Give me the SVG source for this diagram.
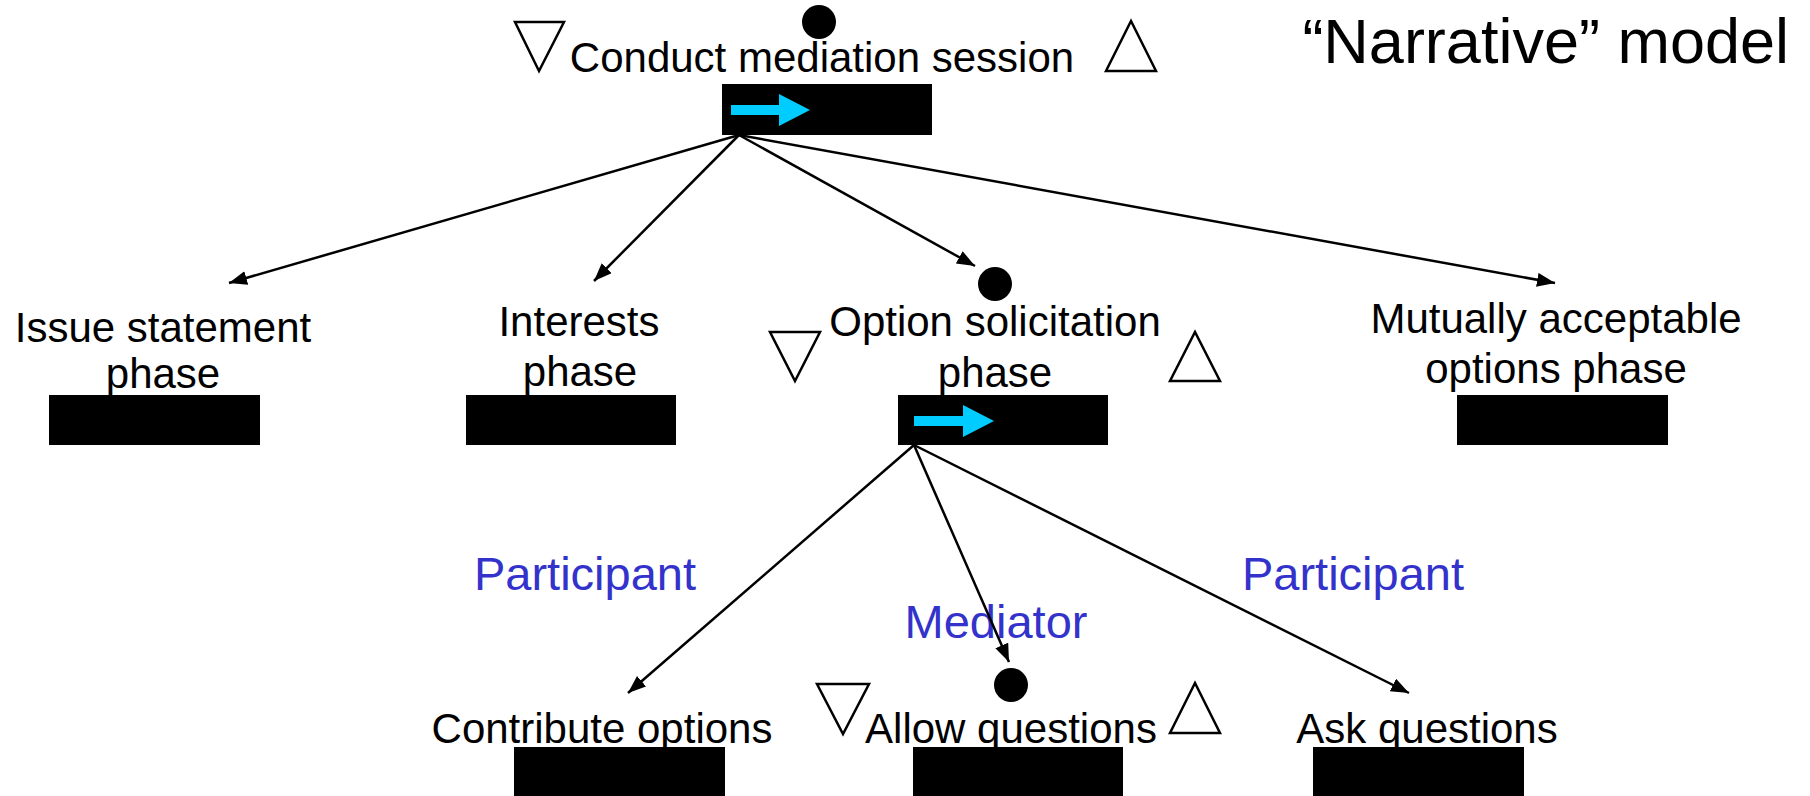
<svg xmlns="http://www.w3.org/2000/svg" width="1810" height="796" viewBox="0 0 1810 796">
  <style>
    .lbl { font-family: "Liberation Sans", Arial, sans-serif; font-size: 42px; fill: #000; text-anchor: middle; }
    .role { font-family: "Liberation Sans", Arial, sans-serif; font-size: 47px; fill: #3333CC; text-anchor: middle; }
    .title { font-family: "Liberation Sans", Arial, sans-serif; font-size: 63px; fill: #000; text-anchor: end; }
    .bar { fill: #000; }
    .go { fill: #00CCFF; }
    .tri { fill: #fff; stroke: #000; stroke-width: 2.5; stroke-linejoin: miter; }
    .dot { fill: #000; }
    .edge { stroke: #000; stroke-width: 2.5; fill: none; marker-end: url(#head); }
  </style>
  <defs>
    <marker id="head" markerUnits="userSpaceOnUse" markerWidth="20" markerHeight="16" refX="18" refY="7" orient="auto">
      <path d="M0,0 L18,7 L0,14 Z" fill="#000"/>
    </marker>
  </defs>
  <rect width="1810" height="796" fill="#fff"/>

  <text class="title" x="1789" y="63">“Narrative” model</text>

  <!-- role labels -->
  <g id="roles">
    <text class="role" x="585" y="590">Participant</text>
    <text class="role" x="996" y="638">Mediator</text>
    <text class="role" x="1353" y="590">Participant</text>
  </g>

  <!-- connectors -->
  <g id="connectors">
    <line class="edge" x1="739" y1="135" x2="229" y2="283"/>
    <line class="edge" x1="739" y1="135" x2="594" y2="281"/>
    <line class="edge" x1="739" y1="135" x2="975" y2="266"/>
    <line class="edge" x1="739" y1="135" x2="1555" y2="283"/>
    <line class="edge" x1="914" y1="445" x2="628" y2="693"/>
    <line class="edge" x1="914" y1="445" x2="1009" y2="662"/>
    <line class="edge" x1="914" y1="445" x2="1409" y2="693"/>
  </g>

  <!-- root task -->
  <g id="conduct-session">
    <polygon class="tri" points="515,22 564,22 539,71"/>
    <ellipse class="dot" cx="819" cy="22" rx="17" ry="17"/>
    <text class="lbl" x="822" y="72">Conduct mediation session</text>
    <polygon class="tri" points="1106,71 1156,71 1131,21"/>
    <rect class="bar" x="722" y="84" width="210" height="51"/>
    <polygon class="go" points="731,105 779,105 779,94 810,110 779,126 779,115 731,115"/>
  </g>

  <g id="issue-statement">
    <text class="lbl" x="163" y="342">Issue statement</text>
    <text class="lbl" x="163" y="388">phase</text>
    <rect class="bar" x="49" y="395" width="211" height="50"/>
  </g>

  <g id="interests">
    <text class="lbl" x="579" y="336">Interests</text>
    <text class="lbl" x="580" y="386">phase</text>
    <rect class="bar" x="466" y="395" width="210" height="50"/>
  </g>

  <g id="option-solicitation">
    <polygon class="tri" points="770,332 820,332 795,381"/>
    <ellipse class="dot" cx="995" cy="284" rx="17" ry="17"/>
    <text class="lbl" x="995" y="336">Option solicitation</text>
    <text class="lbl" x="995" y="387">phase</text>
    <polygon class="tri" points="1170,381 1220,381 1195,332"/>
    <rect class="bar" x="898" y="395" width="210" height="50"/>
    <polygon class="go" points="914,416 963,416 963,405 994,421 963,437 963,426 914,426"/>
  </g>

  <g id="mutually-acceptable">
    <text class="lbl" x="1556" y="333">Mutually acceptable</text>
    <text class="lbl" x="1556" y="383">options phase</text>
    <rect class="bar" x="1457" y="395" width="211" height="50"/>
  </g>

  <g id="contribute-options">
    <text class="lbl" x="602" y="743">Contribute options</text>
    <rect class="bar" x="514" y="747" width="211" height="50"/>
  </g>

  <g id="allow-questions">
    <polygon class="tri" points="817,684 869,684 843,734"/>
    <ellipse class="dot" cx="1011" cy="685" rx="17" ry="17"/>
    <text class="lbl" x="1011" y="743">Allow questions</text>
    <polygon class="tri" points="1170,733 1220,733 1195,683"/>
    <rect class="bar" x="913" y="747" width="210" height="50"/>
  </g>

  <g id="ask-questions">
    <text class="lbl" x="1427" y="743">Ask questions</text>
    <rect class="bar" x="1313" y="747" width="211" height="50"/>
  </g>
</svg>
